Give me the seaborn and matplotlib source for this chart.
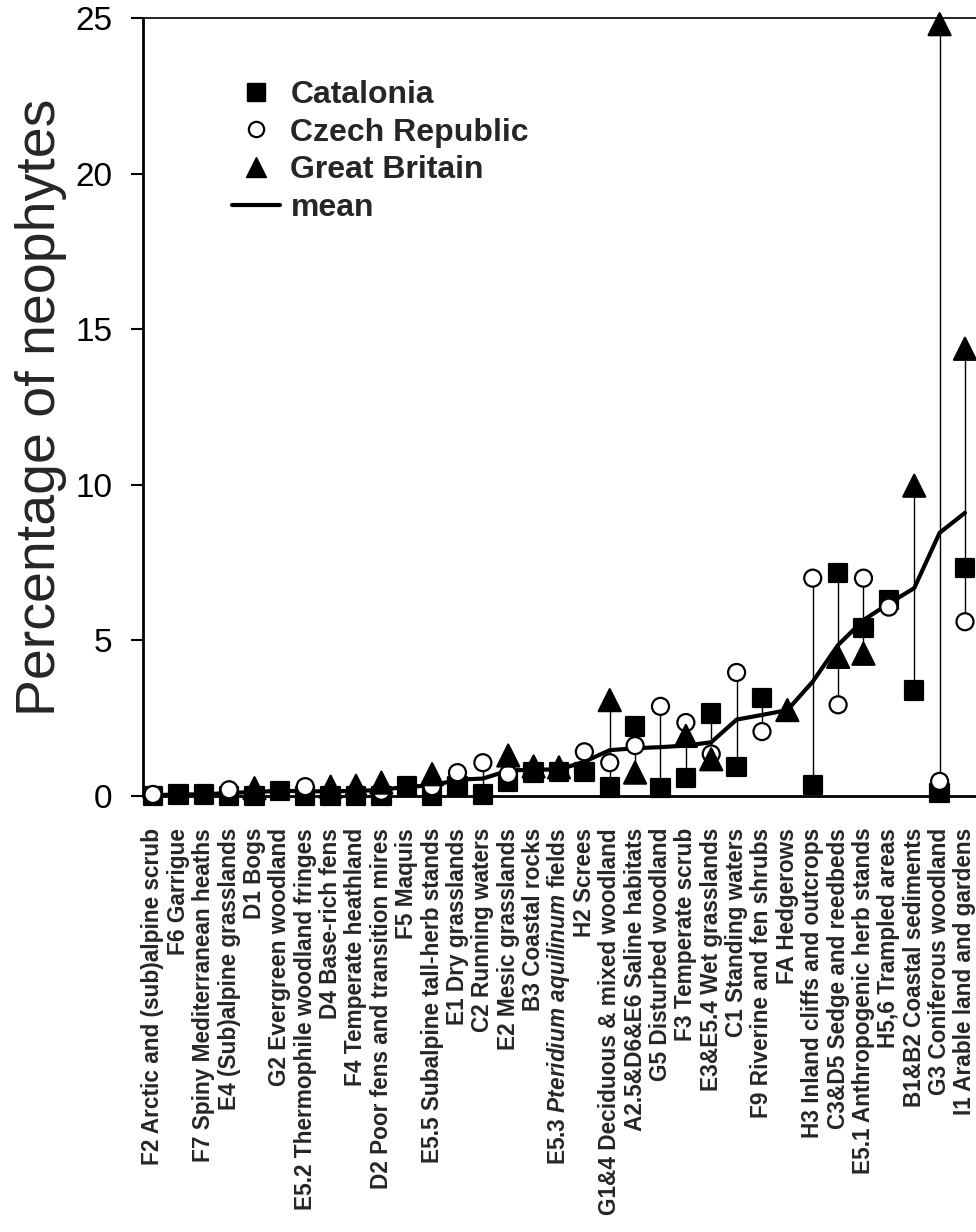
import numpy as np
import pandas as pd
import matplotlib
matplotlib.use("Agg")
import matplotlib.pyplot as plt
from matplotlib.lines import Line2D
import seaborn as sns

# Habitat types, ordered by mean neophyte percentage
habitats = [
    "F2 Arctic and (sub)alpine scrub",
    "F6 Garrigue",
    "F7 Spiny Mediterranean heaths",
    "E4 (Sub)alpine grasslands",
    "D1 Bogs",
    "G2 Evergreen woodland",
    "E5.2 Thermophile woodland fringes",
    "D4 Base-rich fens",
    "F4 Temperate heathland",
    "D2 Poor fens and transition mires",
    "F5 Maquis",
    "E5.5 Subalpine tall-herb stands",
    "E1 Dry grasslands",
    "C2 Running waters",
    "E2 Mesic grasslands",
    "B3 Coastal rocks",
    r"E5.3 $\mathit{Pteridium\ aquilinum}$ fields",
    "H2 Screes",
    "G1&4 Deciduous & mixed woodland",
    "A2.5&D6&E6 Saline habitats",
    "G5 Disturbed woodland",
    "F3 Temperate scrub",
    "E3&E5.4 Wet grasslands",
    "C1 Standing waters",
    "F9 Riverine and fen shrubs",
    "FA Hedgerows",
    "H3 Inland cliffs and outcrops",
    "C3&D5 Sedge and reedbeds",
    "E5.1 Anthropogenic herb stands",
    "H5,6 Trampled areas",
    "B1&B2 Coastal sediments",
    "G3 Coniferous woodland",
    "I1 Arable land and gardens",
]

nan = np.nan
catalonia = [0.0, 0.05, 0.05, 0.0, 0.0, 0.17, 0.0, 0.0, 0.0, 0.0, 0.3, 0.0,
             0.3, 0.05, 0.45, 0.75, 0.78, 0.78, 0.27, 2.23, 0.26, 0.57, 2.65,
             0.94, 3.14, nan, 0.35, 7.16, 5.39, 6.3, 3.39, 0.1, 7.33]
czech = [0.05, nan, nan, 0.2, nan, nan, 0.3, nan, nan, 0.15, nan, 0.3,
         0.75, 1.07, 0.7, nan, nan, 1.42, 1.07, 1.62, 2.88, 2.36, 1.35,
         3.97, 2.07, nan, 7.0, 2.93, 7.0, 6.07, nan, 0.47, 5.6]
britain = [nan, nan, nan, nan, 0.25, nan, nan, 0.3, 0.33, 0.43, nan, 0.7,
           nan, nan, 1.3, 0.95, 0.92, nan, 3.08, 0.75, nan, 1.93, 1.18,
           nan, nan, 2.76, nan, 4.47, 4.57, nan, 9.97, 24.8, 14.37]

regions = ["Catalonia", "Czech Republic", "Great Britain"]
yticks = [0, 5, 10, 15, 20, 25]

sns.set_style("ticks")
plt.rcParams["font.family"] = ["Liberation Sans", "DejaVu Sans"]
plt.rcParams["mathtext.fontset"] = "custom"
plt.rcParams["mathtext.it"] = "Liberation Sans:italic:bold"
plt.rcParams["mathtext.rm"] = "Liberation Sans:bold"
plt.rcParams["mathtext.bf"] = "Liberation Sans:bold"

pos = np.arange(len(habitats))
vals = np.array([catalonia, czech, britain], dtype=float)
mean = np.nanmean(vals, axis=0)
lo = np.nanmin(vals, axis=0)
hi = np.nanmax(vals, axis=0)

long = pd.DataFrame({
    "pos": np.tile(pos, len(regions)),
    "value": vals.ravel(),
    "region": np.repeat(regions, len(pos)),
}).dropna()

fig = plt.figure(figsize=(9.76, 12.32), dpi=100)
ax = fig.add_axes([143 / 976, 436 / 1232, 847 / 976, 778 / 1232])

# range between the three regions
ax.vlines(pos, lo, hi, color="black", lw=1.0, zorder=1)

# mean across regions
sns.lineplot(x=pos, y=mean, color="black", lw=3, ax=ax, zorder=2)

palette = {"Catalonia": "black", "Czech Republic": "white", "Great Britain": "black"}
markers = {"Catalonia": "s", "Czech Republic": "o", "Great Britain": "^"}
sizes = {"Catalonia": 175, "Czech Republic": 150, "Great Britain": 250}
sns.scatterplot(data=long, x="pos", y="value", hue="region", style="region",
                size="region", palette=palette, markers=markers, sizes=sizes,
                hue_order=regions, style_order=regions, size_order=regions,
                edgecolor="black", linewidth=1.6, legend=False, ax=ax,
                zorder=3, clip_on=False)

ax.set_xlim(-0.394, 32.986)
ax.set_ylim(0, 25)
ax.set_yticks(yticks)
ax.set_yticklabels([str(t) for t in yticks])
ax.set_xticks(pos)
ax.set_xticklabels(habitats, rotation=90, fontsize=16.3, fontweight="bold")
ax.tick_params(axis="y", length=9, width=1.5, pad=13, labelsize=24,
               direction="out", colors="black")
ax.tick_params(axis="x", length=0, pad=23)
ax.set_xlabel("")
ax.set_ylabel("Percentage of neophytes", fontsize=40)
ax.yaxis.set_label_coords(-76 / 847, 0.5)

for side in ["left", "bottom"]:
    ax.spines[side].set_linewidth(2)
    ax.spines[side].set_color("black")
ax.spines["top"].set_linewidth(1.2)
ax.spines["top"].set_color("black")
ax.spines["right"].set_visible(False)
ax.spines["top"].set_visible(True)

handles = [
    Line2D([], [], ls="none", marker="s", markersize=12.5, color="black", mec="black"),
    Line2D([], [], ls="none", marker="o", markersize=11, mfc="white", mec="black", mew=1.6),
    Line2D([], [], ls="none", marker="^", markersize=15, color="black", mec="black"),
    Line2D([], [], color="black", lw=3),
]
labels = regions + ["mean"]
ax.legend(handles, labels, loc="upper left",
          bbox_to_anchor=(232 / 976, 1 - 80 / 1232), bbox_transform=fig.transFigure,
          frameon=False, prop=dict(weight="bold", size=23),
          handlelength=1.5, handletextpad=0.33, labelspacing=0.24,
          borderpad=0, borderaxespad=0)

fig.savefig("out.png", dpi=100, facecolor="white")
